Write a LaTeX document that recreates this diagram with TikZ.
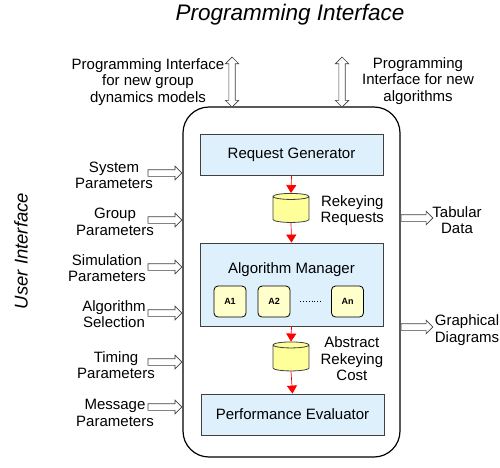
\documentclass[tikz,border=0pt]{standalone}
\usepackage{fontspec}
\setmainfont{Liberation Sans}
\usetikzlibrary{shapes.geometric,shapes.arrows,arrows.meta,positioning}

\definecolor{boxblue}{HTML}{DDF0FC}
\definecolor{drumyellow}{HTML}{FFFF99}
\definecolor{algyellow}{HTML}{FFFFCC}
\definecolor{edgegray}{HTML}{404040}

\tikzset{
  compbox/.style={draw=edgegray, fill=boxblue, line width=0.8pt, minimum width=183pt,
    minimum height=41pt, font=\fontsize{15}{16.5}\selectfont},
  algbox/.style={draw=black, fill=algyellow, rounded corners=4pt, line width=0.8pt,
    minimum width=32pt, minimum height=31pt, font=\bfseries\fontsize{9}{10}\selectfont},
  drum/.style={cylinder, shape border rotate=90, aspect=0.9, draw=edgegray, fill=drumyellow,
    line width=0.8pt, minimum width=36pt, minimum height=29pt},
  flow/.style={red, line width=0.7pt, -{Triangle[width=10pt,length=8pt]}},
  lbl/.style={align=center, inner sep=0pt, font=\fontsize{15}{16.5}\selectfont},
  inarrow/.style={single arrow, draw=edgegray, fill=white, line width=0.7pt, inner xsep=0pt,
    inner ysep=3pt, single arrow head extend=3.5pt, single arrow head indent=0pt,
    minimum height=34pt},
  apiarrow/.style={double arrow, draw=edgegray, fill=white, line width=0.7pt, inner xsep=0pt,
    inner ysep=2.8pt, double arrow head extend=3.5pt, double arrow head indent=0pt,
    minimum height=50pt, rotate=90},
}

\begin{document}
\begin{tikzpicture}[x=1pt,y=-1pt]
  \useasboundingbox (0,0) rectangle (500,467);

  % titles
  \node[font=\itshape\fontsize{22.5}{25}\selectfont] (ptitle) at (290,15) {Programming Interface};
  \node[rotate=90, font=\itshape\fontsize{18.5}{21}\selectfont] (utitle) at (21,251) {User Interface};

  % simulator frame
  \node[draw, line width=1.2pt, rounded corners=26pt, minimum width=217pt,
    minimum height=350pt] (sys) at (291.5,282) {};

  % components
  \node[compbox] (reqgen) at (291.5,154.5) {Request Generator};
  \node[drum] (reqdrum) at (291,210.5) {};
  \node[lbl, right=11pt of reqdrum] (reqlbl) {Rekeying\\Requests};
  \node[compbox, minimum height=83pt] (algman) at (291.5,284.5) {};
  \node[lbl] (amlbl) at (291.5,270) {Algorithm Manager};
  \node[algbox] (a1) at (230,301.5) {A1};
  \node[algbox] (a2) at (274,301.5) {A2};
  \node[algbox] (an) at (347.5,301.5) {An};
  \draw[line width=0.8pt, dash pattern=on 0.8pt off 2pt] ([xshift=10pt]a2.east) -- ([xshift=-9pt]an.west);
  \node[drum] (costdrum) at (291,359) {};
  \node[lbl, right=11pt of costdrum] (costlbl) {Abstract\\Rekeying\\Cost};
  \node[compbox] (perfev) at (292.5,414.5) {Performance Evaluator};

  \draw[flow] (reqgen.south) -- (reqdrum.north);
  \draw[flow] (reqdrum.south) -- (algman.north);
  \draw[flow] (algman.south) -- (costdrum.north);
  \draw[flow] (costdrum.south) -- (perfev.north);

  % programming interface
  \node[lbl] (pimodels) at (148,82) {Programming Interface\\for new group\\dynamics models};
  \node[lbl] (pialgs) at (418,81) {Programming\\Interface for new\\algorithms};
  \node[apiarrow] (apimodels) at (232,82) {};
  \node[apiarrow] (apialgs) at (342,82) {};

  % user interface inputs
  \node[lbl] (sysp) at (114,175.5) {System\\Parameters};
  \node[lbl] (grpp) at (115,222) {Group\\Parameters};
  \node[lbl] (simp) at (107,268) {Simulation\\Parameters};
  \node[lbl] (algsel) at (114,314) {Algorithm\\Selection};
  \node[lbl] (timp) at (116,365) {Timing\\Parameters};
  \node[lbl] (msgp) at (115,413) {Message\\Parameters};
  \foreach \yy/\nm in {173/insys, 220/ingrp, 267/insim, 313/inalg, 362/intim, 407/inmsg}
    \node[inarrow, anchor=tip] (\nm) at (sys.west |- 0,\yy) {};

  % outputs
  \node[inarrow, anchor=tail, minimum height=32pt] (outtab) at (sys.east |- 0,218) {};
  \node[inarrow, anchor=tail, minimum height=32pt] (outgra) at (sys.east |- 0,327) {};
  \node[lbl] (tablbl) at (457,220) {Tabular\\Data};
  \node[lbl] (gralbl) at (467,330) {Graphical\\Diagrams};
\end{tikzpicture}
\end{document}
